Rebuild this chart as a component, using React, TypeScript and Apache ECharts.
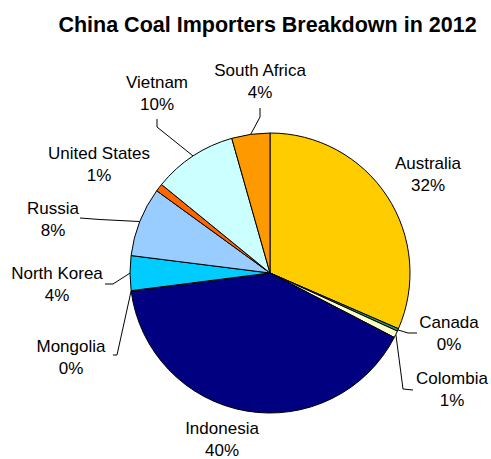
import React, { useEffect, useRef } from "react";
import * as echarts from "echarts";

const categories = [
  "Australia",
  "Canada",
  "Colombia",
  "Indonesia",
  "Mongolia",
  "North Korea",
  "Russia",
  "United States",
  "Vietnam",
  "South Africa",
];
const shares = [31.5, 0.3, 0.8, 40.3, 0.05, 4.0, 8.0, 0.9, 9.7, 4.4];
const colors = [
  "#FFCC00",
  "#339966",
  "#FFFFCC",
  "#000080",
  "#993366",
  "#00CCFF",
  "#99CCFF",
  "#FF6600",
  "#CCFFFF",
  "#FF9900",
];
const titleText = "China Coal Importers Breakdown in 2012";

// layout only: label centres and leader-line bend points (pixels)
const labelCenters: [number, number][] = [
  [428, 174],
  [449, 333],
  [452, 389],
  [222, 439],
  [71, 357],
  [57, 284],
  [53, 219],
  [99, 164.5],
  [157, 93],
  [260, 81.5],
];
const leaderBends: ([number, number][] | null)[] = [
  null,
  [
    [408, 333],
    [417, 333],
  ],
  [
    [403, 389],
    [413, 390],
  ],
  null,
  [
    [117, 355],
    [113, 355],
  ],
  [
    [113, 284],
    [105, 284],
  ],
  [
    [100, 219.5],
    [80, 218],
  ],
  null,
  [
    [157, 127],
    [157, 119],
  ],
  [
    [260, 117],
    [260, 108],
  ],
];

const FONT = "Liberation Sans, Arial, Helvetica, sans-serif";

export default function App() {
  const ref = useRef<HTMLDivElement>(null);
  useEffect(() => {
    document.body.style.margin = "0";
    const chart = echarts.init(ref.current!, null, { renderer: "svg" });
    const data = categories.map((name, i) => ({
      name,
      value: shares[i],
      itemStyle: { color: colors[i] },
      labelLine: { show: leaderBends[i] !== null },
    }));
    chart.setOption({
      animation: false,
      backgroundColor: "#ffffff",
      graphic: [
        {
          type: "text",
          x: 267.5,
          y: 25,
          style: {
            text: titleText,
            font: `bold 21.5px ${FONT}`,
            fill: "#000",
            textAlign: "center",
            textVerticalAlign: "middle",
          },
        },
      ],
      series: [
        {
          type: "pie",
          center: [270, 273],
          radius: 140,
          startAngle: 90,
          clockwise: true,
          avoidLabelOverlap: false,
          minShowLabelAngle: 0,
          itemStyle: { borderColor: "#000", borderWidth: 1 },
          emphasis: { disabled: true },
          label: {
            show: true,
            position: "outside",
            formatter: (p: any) => `${p.name}\n${Math.round(p.value)}%`,
            fontFamily: FONT,
            fontSize: 17,
            lineHeight: 22,
            color: "#000",
            align: "center",
          },
          labelLine: {
            show: true,
            length: 10,
            length2: 10,
            lineStyle: { color: "#000", width: 1 },
          },
          labelLayout: (params: any) => {
            const i = params.dataIndex;
            const [x, y] = labelCenters[i];
            const res: any = { x, y, align: "center", verticalAlign: "middle" };
            const bends = leaderBends[i];
            if (bends && params.labelLinePoints) {
              res.labelLinePoints = [params.labelLinePoints[0], ...bends];
            }
            return res;
          },
          data,
        },
      ],
    });
    return () => chart.dispose();
  }, []);
  return <div ref={ref} style={{ width: 491, height: 459 }} />;
}
